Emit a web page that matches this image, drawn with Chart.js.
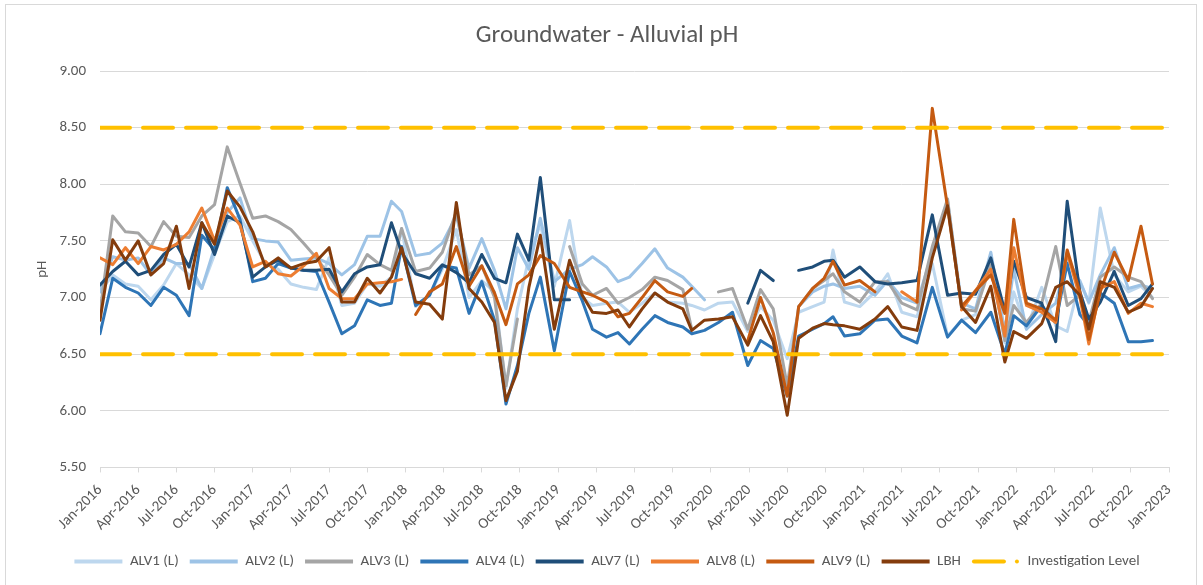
<!DOCTYPE html>
<html><head><meta charset="utf-8">
<script src="https://cdn.jsdelivr.net/npm/chart.js@4.4.1/dist/chart.umd.min.js"></script>
<style>
html,body{margin:0;padding:0;background:#fff;}
#wrap{position:absolute;left:0;top:0;width:1203px;height:585px;}
#frame{position:absolute;left:5px;top:4px;width:1192px;height:590px;border:1px solid #d9d9d9;box-sizing:border-box;pointer-events:none;}
</style></head>
<body>
<div id="wrap"><canvas id="c" width="1203" height="585"></canvas></div>
<div id="frame"></div>
<script>
// Quarter tick labels (one every 3 months from Jan-2016)
const tickLabels = ['Jan-2016','Apr-2016','Jul-2016','Oct-2016','Jan-2017','Apr-2017','Jul-2017','Oct-2017',
'Jan-2018','Apr-2018','Jul-2018','Oct-2018','Jan-2019','Apr-2019','Jul-2019','Oct-2019',
'Jan-2020','Apr-2020','Jul-2020','Oct-2020','Jan-2021','Apr-2021','Jul-2021','Oct-2021',
'Jan-2022','Apr-2022','Jul-2022','Oct-2022','Jan-2023'];

// Sampling dates, in months since Jan-2016
const samplePos = [
0,1,2,3,4,5,6,7,8,9,10,11,
12,13,14,15,16,17,18,19,20,21,22,22.9,
23.7,24.8,25.9,26.9,28.0,29.0,30.0,31.0,31.9,32.8,33.7,34.6,
35.7,36.9,37.9,38.7,39.8,40.7,41.6,42.6,43.6,44.6,45.8,46.5,
47.5,48.6,49.7,50.9,51.9,52.9,54.0,54.9,56.0,56.9,57.6,58.5,
59.7,60.9,61.9,63.0,64.2,65.4,66.6,67.7,68.8,70.0,71.1,71.8,
72.8,74.0,75.1,76.0,77.0,77.7,78.6,79.7,80.8,81.8,82.7];

const alv1 = [
7.05,7.20,7.12,7.10,6.98,7.11,7.30,7.20,7.08,7.38,7.67,7.72,
7.50,7.30,7.25,7.12,7.09,7.07,7.35,6.93,6.95,7.12,7.10,7.18,
7.61,6.92,7.02,7.25,7.60,7.00,7.15,7.05,6.20,6.90,7.35,7.65,
7.10,7.68,7.00,6.93,6.95,6.96,6.87,6.95,7.04,6.96,6.95,6.93,
6.89,6.95,6.96,6.70,6.92,6.80,6.46,6.87,6.92,6.96,7.42,6.96,
6.92,7.05,7.21,6.87,6.83,7.30,6.66,6.80,6.85,7.38,6.60,7.05,
6.72,7.09,6.75,6.70,7.15,6.95,7.79,7.20,7.05,7.10,7.00];
const alv2 = [
7.05,7.36,7.33,7.35,7.20,7.35,7.30,7.30,7.08,7.44,7.75,7.88,
7.52,7.50,7.49,7.33,7.34,7.35,7.30,7.20,7.29,7.54,7.54,7.85,
7.76,7.37,7.39,7.48,7.72,7.26,7.52,7.24,6.90,7.44,7.25,7.70,
7.14,7.25,7.29,7.36,7.27,7.14,7.18,7.30,7.43,7.26,7.18,7.10,
6.98,null,null,null,null,null,null,6.92,7.05,7.10,7.12,7.08,
7.10,7.02,7.15,7.00,6.95,7.40,7.85,6.95,6.90,7.40,6.70,7.25,
6.72,6.85,6.95,7.35,7.14,6.96,7.20,7.44,7.08,7.11,7.08];
const alv3 = [
6.87,7.72,7.58,7.57,7.45,7.67,7.54,7.53,7.72,7.82,8.33,8.01,
7.70,7.72,7.67,7.60,7.48,7.35,7.20,7.02,7.18,7.38,7.29,7.24,
7.61,7.23,7.26,7.40,7.76,7.20,7.28,7.00,6.22,6.81,null,null,
null,7.45,7.12,7.02,7.08,6.95,7.00,7.07,7.18,7.15,7.07,6.72,
null,7.05,7.08,6.72,7.07,6.90,6.22,6.92,7.08,7.15,7.21,7.05,
6.96,7.14,7.14,6.95,6.89,7.45,7.87,6.90,6.88,7.29,6.62,6.93,
6.78,6.95,7.45,6.93,7.02,6.78,7.18,7.27,7.18,7.14,6.99];
const alv4 = [
6.68,7.17,7.09,7.04,6.93,7.09,7.02,6.84,7.55,7.42,7.97,7.69,
7.14,7.17,7.30,7.26,7.24,7.23,6.96,6.68,6.75,6.98,6.93,6.95,
7.45,6.93,7.02,7.28,7.26,6.86,7.14,6.80,6.06,6.40,6.86,7.18,
6.53,7.23,6.97,6.72,6.65,6.69,6.59,6.72,6.84,6.78,6.74,6.68,
6.71,6.78,6.87,6.40,6.62,6.55,6.13,6.66,6.72,6.77,6.83,6.66,
6.68,6.80,6.81,6.66,6.60,7.09,6.65,6.80,6.69,6.87,6.50,6.84,
6.75,6.93,6.78,7.30,6.85,6.75,7.04,6.95,6.61,6.61,6.62];
const alv7 = [
7.11,7.23,7.32,7.20,7.24,7.38,7.47,7.27,7.66,7.38,7.72,7.66,
7.18,7.27,7.33,7.26,7.24,7.24,7.25,7.05,7.21,7.27,7.29,7.66,
7.40,7.21,7.17,7.29,7.22,7.13,7.38,7.17,7.13,7.56,7.33,8.06,
6.98,6.98,null,null,null,null,null,null,null,null,null,null,
null,null,null,6.95,7.24,7.15,null,7.24,7.27,7.32,7.33,7.18,
7.27,7.14,7.12,7.13,7.15,7.73,7.02,7.04,7.03,7.35,6.88,7.32,
7.00,6.95,6.61,7.85,7.05,6.81,6.96,7.23,6.93,6.99,7.12];
const alv8 = [
7.35,7.29,7.44,7.30,7.45,7.42,7.47,7.58,7.79,7.50,7.79,7.64,
7.27,7.32,7.21,7.19,7.28,7.39,7.08,6.99,6.99,7.12,7.13,7.14,
7.16,null,null,null,null,null,null,null,null,null,null,null,
null,null,null,null,null,null,null,null,null,null,null,null,
null,null,null,null,null,null,null,null,null,null,null,null,
null,null,null,7.05,6.96,null,null,6.89,7.06,7.25,6.66,7.44,
6.93,6.87,6.78,7.40,7.00,6.59,7.08,7.14,6.86,6.95,6.92];
const alv9 = [
null,null,null,null,null,null,null,null,null,null,null,null,
null,null,null,null,null,null,null,null,null,null,null,null,
null,6.85,7.05,7.12,7.45,7.10,7.28,7.04,6.76,7.12,7.20,7.37,
7.30,7.09,7.05,7.02,6.96,6.83,6.86,7.00,7.15,7.05,7.01,7.08,
null,null,null,6.62,7.00,6.69,6.13,6.92,7.08,7.17,7.32,7.11,
7.15,7.05,null,null,6.96,8.67,7.80,6.92,7.06,7.20,6.86,7.69,
6.95,6.90,6.80,7.42,7.05,6.63,7.05,7.40,7.15,7.63,7.12];
const lbh = [
6.80,7.51,7.33,7.50,7.20,7.30,7.63,7.08,7.66,7.47,7.94,7.80,
7.58,7.27,7.35,7.26,7.30,7.32,7.44,6.96,6.96,7.17,7.04,7.18,
7.44,6.96,6.94,6.81,7.84,7.08,6.96,6.78,6.09,6.35,7.09,7.55,
6.72,7.33,7.02,6.87,6.86,6.89,6.74,6.90,7.04,6.96,6.90,6.71,
6.80,6.81,6.83,6.58,6.84,6.61,5.96,6.64,6.73,6.77,6.76,6.75,
6.72,6.81,6.92,6.74,6.71,7.35,7.81,6.92,6.78,7.10,6.43,6.70,
6.64,6.77,7.09,7.14,7.02,6.72,7.14,7.09,6.87,6.92,7.08];
const investigationUpper = 8.5;
const investigationLower = 6.5;
const axisStart = 0, axisEnd = 84; // Jan-2016 .. Jan-2023

const series = [
  {label:'ALV1 (L)', data:alv1, color:'#BDD7EE'},
  {label:'ALV2 (L)', data:alv2, color:'#9DC3E6'},
  {label:'ALV3 (L)', data:alv3, color:'#A5A5A5'},
  {label:'ALV4 (L)', data:alv4, color:'#2E75B6'},
  {label:'ALV7 (L)', data:alv7, color:'#1F4E79'},
  {label:'ALV8 (L)', data:alv8, color:'#ED7D31'},
  {label:'ALV9 (L)', data:alv9, color:'#C55A11'},
  {label:'LBH', data:lbh, color:'#843C0C'}
];
const datasets = series.map((s,i)=>({
  label:s.label,
  data:s.data.map((v,k)=>({x:samplePos[k], y:v})),
  borderColor:s.color, backgroundColor:s.color,
  borderWidth:3, pointRadius:0, pointHoverRadius:0, spanGaps:false, tension:0,
  borderJoinStyle:'round', borderCapStyle:'round', order:20-i
}));
datasets.push({label:'Investigation Level',
  data:[{x:axisStart,y:investigationUpper},{x:axisEnd,y:investigationUpper}],
  borderColor:'#FFC000', backgroundColor:'#FFC000',
  borderWidth:4, borderDash:[30,13], borderCapStyle:'round', pointRadius:0, order:2});
datasets.push({label:'_lower',
  data:[{x:axisStart,y:investigationLower},{x:axisEnd,y:investigationLower}],
  borderColor:'#FFC000', backgroundColor:'#FFC000',
  borderWidth:4, borderDash:[30,13], borderCapStyle:'round', pointRadius:0, order:1});

const FONT = "Carlito, Lato, 'Liberation Sans', sans-serif";
Chart.defaults.font.family = FONT;
Chart.defaults.color = '#595959';

const dashLegend = {
  id:'dashLegend',
  afterDraw(chart){
    const lg = chart.legend; if(!lg || !lg.legendItems) return;
    lg.legendItems.forEach((it,j)=>{
      if(it.text!=='Investigation Level') return;
      const hb = lg.legendHitBoxes[j]; if(!hb) return;
      const ctx = chart.ctx; ctx.save();
      const y = hb.top + hb.height/2;
      ctx.strokeStyle='#FFC000'; ctx.fillStyle='#FFC000'; ctx.lineWidth=4; ctx.lineCap='round';
      ctx.beginPath(); ctx.moveTo(hb.left+2,y); ctx.lineTo(hb.left+32,y); ctx.stroke();
      ctx.beginPath(); ctx.arc(hb.left+45,y,2,0,Math.PI*2); ctx.fill();
      ctx.restore();
    });
  }
};

new Chart(document.getElementById('c'), {
  type:'line',
  data:{datasets:datasets},
  plugins:[dashLegend],
  options:{
    responsive:false, animation:false, maintainAspectRatio:false,
    parsing:true,
    layout:{padding:{left:45, right:34, top:10, bottom:6}},
    plugins:{
      title:{display:true, text:'Groundwater - Alluvial pH', color:'#595959',
        font:{size:25, weight:'normal', family:FONT}, padding:{top:11, bottom:20}},
      legend:{position:'bottom', labels:{
        boxWidth:48, boxHeight:4, padding:11, color:'#595959', font:{size:15, family:FONT},
        sort:(a,b)=>a.datasetIndex-b.datasetIndex,
        filter:(item)=>item.text!=='_lower',
        generateLabels:(chart)=>Chart.defaults.plugins.legend.labels.generateLabels(chart).map(l=>({
          ...l, lineWidth:0, lineDash:[],
          fillStyle: l.text==='Investigation Level' ? 'rgba(0,0,0,0)' : l.strokeStyle}))
      }},
      tooltip:{enabled:false}
    },
    scales:{
      x:{
        type:'linear', min:axisStart, max:axisEnd,
        grid:{display:true, drawOnChartArea:false, drawTicks:true, tickLength:5, color:'#d9d9d9'},
        border:{display:true, color:'#d9d9d9', width:1},
        ticks:{stepSize:3, autoSkip:false, maxRotation:45, minRotation:45, padding:9, color:'#595959',
          font:{size:15, family:FONT},
          callback:(v)=> (v%3===0 ? tickLabels[v/3] : null)}
      },
      y:{
        min:5.5, max:9,
        afterFit:(s)=>{ s.width = 55; },
        title:{display:true, text:'pH', color:'#595959', font:{size:15, family:FONT}, padding:{top:-12,bottom:0}},
        grid:{color:'#d9d9d9', drawTicks:false, lineWidth:1},
        border:{display:false},
        ticks:{stepSize:0.5, padding:14, color:'#595959', font:{size:15, family:FONT},
          callback:(v)=>Number(v).toFixed(2)}
      }
    }
  }
});
</script>
</body></html>
